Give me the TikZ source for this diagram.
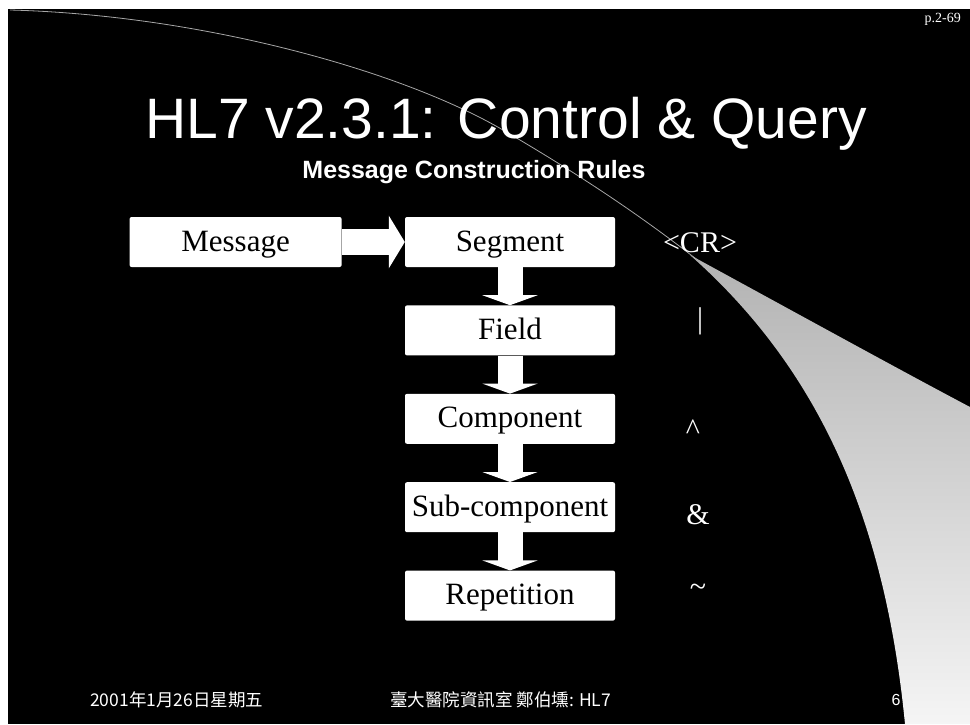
\documentclass[tikz,border=0pt]{standalone}
\usepackage{fontspec}
\setmainfont{Liberation Serif}
\setsansfont{Liberation Sans}
\newfontfamily\cjk{Noto Sans CJK TC}
\usetikzlibrary{positioning,arrows.meta}

\begin{document}
\begin{tikzpicture}[x=1pt,y=-1pt,
blockarrow/.style={draw=white,line width=25pt,-{Triangle[length=10pt,width=55pt]}}]
\tikzstyle{every node}=[inner sep=0pt]
\tikzstyle{layer}=[rectangle,fill=white,rounded corners=2pt,minimum width=210pt,minimum height=50pt,text height=24pt,text depth=6pt,font=\fontsize{31}{31}\selectfont]
\tikzstyle{sepchar}=[text=white,font=\fontsize{30}{30}\selectfont]
\tikzstyle{foot}=[text=white,anchor=west,font=\cjk\fontsize{17.5}{17.5}\selectfont]

\fill[white] (0,0) rectangle (970,724);
\fill[black] (8,9) rectangle (970,724);

% swoosh at the right
\shade[top color=gray!60,middle color=gray!50,bottom color=white!92!gray]
  (690,255) .. controls (800,315) and (900,370) .. (970,407)
  -- (970,724) -- (905,724)
  .. controls (885,520) and (820,370) .. (690,255);
\draw[gray!70,line width=0.8pt]
  (10,10) .. controls (200,15) and (400,70) .. (503,130)
  .. controls (580,175) and (640,215) .. (700,262);

\node[text=white,anchor=east,font=\fontsize{14}{14}\selectfont] (page) at (961,19) {p.2-69};
\node[text=white,anchor=base,font=\sffamily\fontsize{57}{57}\selectfont] (title) at (506,138) {HL7 v2.3.1: Control \& Query};
\node[text=white,anchor=base,font=\sffamily\bfseries\fontsize{25}{25}\selectfont] (subtitle) at (474,178) {Message Construction Rules};

\node[layer] (seg) at (510,242) {Segment};
\node[layer,minimum width=212pt,left=63pt of seg] (msg) {Message};
\node[layer,below=38pt of seg] (field) {Field};
\node[layer,below=38pt of field] (comp) {Component};
\node[layer,below=38pt of comp] (subcomp) {Sub-component};
\node[layer,below=38pt of subcomp] (rep) {Repetition};

\draw[blockarrow,line width=26pt,-{Triangle[length=16pt,width=52pt]}] (msg) -- (seg);
\draw[blockarrow] (seg) -- (field);
\draw[blockarrow] (field) -- (comp);
\draw[blockarrow] (comp) -- (subcomp);
\draw[blockarrow] (subcomp) -- (rep);

\node[sepchar] (cr) at (700,243) {<CR>};
\node[sepchar] (bar) at (700,321) {|};
\node[sepchar] (caret) at (693,430) {\^{}};
\node[sepchar] (amp) at (698,515) {\&};
\node[sepchar] (tilde) at (698,590) {\textasciitilde};

\node[foot] (date) at (90,700) {2001年1月26日星期五};
\node[foot] (dept) at (390,700) {臺大醫院資訊室\ 鄭伯壎: HL7};
\node[text=white,font=\sffamily\fontsize{16}{16}\selectfont] (num) at (896,700) {6};
\end{tikzpicture}
\end{document}
